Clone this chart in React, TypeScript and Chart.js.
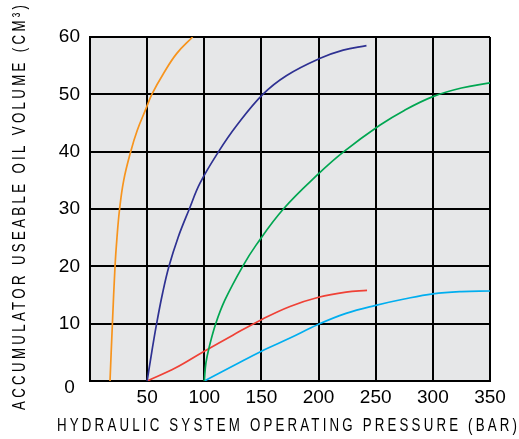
import React, { useEffect, useRef } from "react";
import { Chart, registerables } from "chart.js";

Chart.register(...registerables);

// ---- data (pressure in bar, volume in cm³) ----
const orangePressure = [17.5, 19.6, 21.9, 23.6, 25.9, 29.5, 35.6, 41.3, 49, 54.1, 64.2, 75.8, 89.8];
const orangeVolume = [0, 10, 20, 25, 30, 35, 40, 43.7, 47.5, 50, 53.6, 57.1, 60];

const bluePressure = [50, 54, 58.3, 63.5, 69.1, 77, 86.9, 96.25, 112.5, 128.5, 151.2, 172.1, 200.3, 221.5, 241.9];
const blueVolume = [0, 5, 10, 15.3, 20, 25, 30, 34.5, 40, 44.6, 50, 53.3, 56.2, 57.7, 58.5];

const greenPressure = [100, 101.4, 104.4, 110, 118, 133.6, 145.3, 169.2, 200.3, 222.1, 253.5, 275, 300, 325, 350];
const greenVolume = [0, 3.1, 6, 10, 14.1, 20, 23.7, 30, 36.2, 40, 44.6, 47.2, 49.6, 51.1, 52];

const redPressure = [50, 75, 100, 125, 150, 175, 200, 224, 242.4];
const redVolume = [0, 2.3, 5.2, 8.0, 10.7, 13.0, 14.6, 15.5, 15.8];

const cyanPressure = [100, 125, 150, 175, 200, 224, 250, 275, 300, 325, 350];
const cyanVolume = [0, 2.6, 5.2, 7.5, 9.9, 11.8, 13.2, 14.3, 15.2, 15.6, 15.7];

const xTicks = [0, 50, 100, 150, 200, 250, 300, 350];
const yTicks = [0, 10, 20, 30, 40, 50, 60];

const xTitle = "HYDRAULIC SYSTEM OPERATING PRESSURE (BAR)";
const yTitle = "ACCUMULATOR USEABLE OIL VOLUME (CM³)";

const FONT = "'Liberation Sans', Arial, sans-serif";

function pts(xs: number[], ys: number[]) {
  return xs.map((x, i) => ({ x, y: ys[i] }));
}

// draws text condensed horizontally (k) and letter-spaced so that it spans `span` px
function drawSpaced(ctx: any, text: string, cx: number, cy: number, span: number, rot: number) {
  const k = 0.7;
  ctx.save();
  ctx.font = `19px ${FONT}`;
  ctx.letterSpacing = "0px";
  const w0 = ctx.measureText(text).width;
  const n = Array.from(text).length;
  const s = (span / k - w0) / (n - 1);
  ctx.translate(cx, cy);
  ctx.rotate(rot);
  ctx.scale(k, 1);
  ctx.letterSpacing = `${s}px`;
  ctx.fillStyle = "#000";
  ctx.textAlign = "left";
  ctx.textBaseline = "middle";
  ctx.fillText(text, -(span / k) / 2, 0);
  ctx.restore();
}

const bgAndTitles = {
  id: "bgAndTitles",
  beforeDraw(chart: any) {
    const { ctx, chartArea } = chart;
    ctx.save();
    ctx.fillStyle = "#e6e7e8";
    ctx.fillRect(chartArea.left, chartArea.top, chartArea.right - chartArea.left, chartArea.bottom - chartArea.top);
    ctx.restore();
  },
  afterDraw(chart: any) {
    const { ctx } = chart;
    drawSpaced(ctx, xTitle, 287, 426, 460, 0);
    drawSpaced(ctx, yTitle, 20, 207.5, 405, -Math.PI / 2);
  },
};

export default function App() {
  const ref = useRef<HTMLCanvasElement | null>(null);
  useEffect(() => {
    if (!ref.current) return;
    const mk = (xs: number[], ys: number[], color: string) => ({
      data: pts(xs, ys),
      borderColor: color,
      borderWidth: 1.7,
      pointRadius: 0,
      fill: false,
      tension: 0.4,
    });
    const chart = new Chart(ref.current, {
      type: "line",
      data: {
        datasets: [
          mk(orangePressure, orangeVolume, "#f7941d"),
          mk(bluePressure, blueVolume, "#2e3192"),
          mk(greenPressure, greenVolume, "#00a651"),
          mk(redPressure, redVolume, "#ef4136"),
          mk(cyanPressure, cyanVolume, "#00aeef"),
        ],
      },
      options: {
        animation: false,
        responsive: true,
        maintainAspectRatio: false,
        layout: { padding: { left: 0, right: 29, top: 37, bottom: 0 } },
        plugins: { legend: { display: false }, tooltip: { enabled: false } },
        scales: {
          x: {
            type: "linear",
            min: 0,
            max: 350,
            afterFit(scale: any) {
              scale.height = 58;
            },
            afterBuildTicks(scale: any) {
              scale.ticks = xTicks.map((v) => ({ value: v }));
            },
            grid: { color: "#000", lineWidth: 2, drawTicks: false },
            border: { color: "#000", width: 2 },
            ticks: {
              padding: 5,
              color: "#000",
              font: { family: FONT, size: 19 },
              callback: (v: any) => (Number(v) === 0 ? "" : String(v)),
              maxRotation: 0,
              autoSkip: false,
            },
          },
          y: {
            type: "linear",
            min: 0,
            max: 60,
            afterFit(scale: any) {
              scale.width = 90;
            },
            afterBuildTicks(scale: any) {
              scale.ticks = yTicks.map((v) => ({ value: v }));
            },
            grid: { color: "#000", lineWidth: 2, drawTicks: false },
            border: { color: "#000", width: 2 },
            ticks: {
              padding: 10,
              color: "#000",
              autoSkip: false,
              font: (ctx: any) =>
                ctx.tick && ctx.tick.value === 0
                  ? { family: FONT, size: 19, lineHeight: "14px" }
                  : { family: FONT, size: 19 },
              callback: (v: any) => (Number(v) === 0 ? ["", "0 "] : String(v)),
            },
          },
        },
      },
      plugins: [bgAndTitles],
    });
    return () => chart.destroy();
  }, []);
  return (
    <div style={{ position: "fixed", left: 0, top: 0, width: 519, height: 439, background: "#fff" }}>
      <canvas ref={ref} />
    </div>
  );
}
